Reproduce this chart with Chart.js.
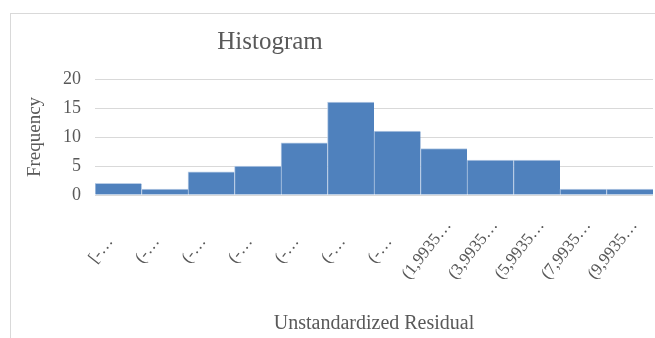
<!DOCTYPE html>
<html>
<head>
<meta charset="utf-8">
<script src="https://cdn.jsdelivr.net/npm/chart.js@4/dist/chart.umd.min.js"></script>
<style>
  html, body { margin: 0; padding: 0; background: #ffffff; }
  #wrap { position: relative; width: 655px; height: 338px; overflow: hidden; }
  #frame { position: absolute; left: 10px; top: 13px; width: 700px; height: 400px;
           border: 1px solid #d9d9d9; box-sizing: border-box; }
  #chart { position: absolute; left: 0; top: 0; }
</style>
</head>
<body>
<div id="wrap">
  <div id="frame"></div>
  <canvas id="chart" width="655" height="338"></canvas>
</div>
<script>
// Residual bins (labels as Excel shows them, truncated) and their counts
const binLabels = [
  "[-\u2026", "(-\u2026", "(-\u2026", "(-\u2026", "(-\u2026", "(-\u2026", "(-\u2026",
  "(1,9935\u2026", "(3,9935\u2026", "(5,9935\u2026", "(7,9935\u2026", "(9,9935\u2026"
];
const frequencies = [2, 1, 4, 5, 9, 16, 11, 8, 6, 6, 1, 1];
const yTicks = [0, 5, 10, 15, 20];

const chartTitle = "Histogram";
const xTitle = "Unstandardized Residual";
const yTitle = "Frequency";

const textColor = "#595959";
const serif = "'Liberation Serif', 'Times New Roman', serif";

// Chart title, centred over the left part of the frame
const titlePlugin = {
  id: "histTitle",
  afterDraw(chart) {
    const ctx = chart.ctx;
    ctx.save();
    ctx.font = "25px " + serif;
    ctx.fillStyle = textColor;
    ctx.textAlign = "center";
    ctx.textBaseline = "alphabetic";
    ctx.fillText(chartTitle, 270, 49);
    ctx.restore();
  }
};

// Slanted category labels, each centred a little left of its bin
const slantedLabels = {
  id: "slantedLabels",
  afterDraw(chart) {
    const xs = chart.scales.x;
    const ctx = chart.ctx;
    ctx.save();
    ctx.font = "17px " + serif;
    ctx.fillStyle = textColor;
    ctx.textAlign = "center";
    ctx.textBaseline = "middle";
    chart.data.labels.forEach((lab, i) => {
      const x = xs.getPixelForTick(i) - 17;
      const y = xs.top + 55;
      ctx.save();
      ctx.translate(x, y);
      ctx.rotate(-52 * Math.PI / 180);
      ctx.fillText(lab, 0, 0);
      ctx.restore();
    });
    ctx.restore();
  }
};

new Chart(document.getElementById("chart"), {
  type: "bar",
  data: {
    labels: binLabels,
    datasets: [{
      data: frequencies,
      backgroundColor: "#4f81bd",
      borderColor: "#b9cde6",
      borderWidth: { top: 1, left: 1, right: 0, bottom: 0 },
      borderSkipped: false,
      categoryPercentage: 1.0,
      barPercentage: 1.0
    }]
  },
  options: {
    responsive: false,
    animation: false,
    events: [],
    layout: { padding: { top: 79, right: 2, left: 0, bottom: 0 } },
    plugins: {
      legend: { display: false },
      title: { display: false },
      tooltip: { enabled: false }
    },
    scales: {
      x: {
        grid: { display: false },
        border: { display: false },
        ticks: { display: false },
        title: {
          display: true,
          text: xTitle,
          color: textColor,
          font: { family: serif, size: 20 },
          padding: { top: 0, bottom: 2 }
        },
        afterFit(scale) { scale.height = 143; }
      },
      y: {
        min: 0,
        max: 20,
        afterBuildTicks(scale) { scale.ticks = yTicks.map(v => ({ value: v })); },
        grid: { color: "#d9d9d9", lineWidth: 1, drawTicks: false },
        border: { display: false },
        ticks: {
          color: textColor,
          font: { family: serif, size: 18 },
          padding: 14
        },
        title: {
          display: true,
          text: yTitle,
          color: textColor,
          font: { family: serif, size: 19 },
          padding: { top: 24, bottom: 0 }
        },
        afterFit(scale) { scale.width = 95; }
      }
    }
  },
  plugins: [titlePlugin, slantedLabels]
});
</script>
</body>
</html>
